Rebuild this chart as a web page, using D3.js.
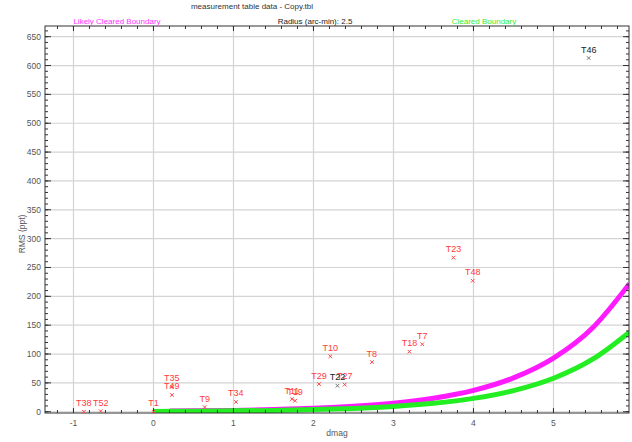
<!DOCTYPE html>
<html><head><meta charset="utf-8">
<script src="https://cdn.jsdelivr.net/npm/d3@7"></script>
<style>html,body{margin:0;padding:0;background:#fff;}svg{display:block;font-family:"Liberation Sans",Arial,sans-serif;}</style>
</head><body>
<script>
// ---- data ----
const pointNames = ["T38","T52","T1","T35","T49","T9","T34","T11","T19","T29","T10","T8","T18","T7","T23","T48","T27","T22","T46"];
const pointDmag  = [-0.87,-0.66,0.0,0.23,0.23,0.64,1.03,1.73,1.77,2.07,2.21,2.73,3.20,3.36,3.75,3.99,2.39,2.30,5.44];
const pointRms   = [0,1,0,43,29,8,17,22,19,48,96,86,104,117,267,227,47,45,613];
const pointGroup = ["red","red","red","red","red","red","red","red","red","red","red","red","red","red","red","red","red","black","black"];

const likelyDmag = [0.2,0.5,1,1.5,2,2.5,3,3.5,4,4.5,5,5.5,5.95];
const likelyRms  = [1.3,1.5,2.3,3.7,5.9,9.3,14.7,23.4,37,58.7,93,147,222];
const clearedDmag = [0,0.5,1,1.5,2,2.5,3,3.5,4,4.5,5,5.5,5.95];
const clearedRms  = [0.6,0.9,1.5,2.3,3.7,5.8,9.2,14.6,23.1,36.6,58,92,138];

const xTicks = [-1,0,1,2,3,4,5];
const yTicks = [0,50,100,150,200,250,300,350,400,450,500,550,600,650];

const titleText = "measurement table data - Copy.tbl";
const likelyLabel = "Likely Cleared Boundary";
const radiusLabel = "Radius (arc-min): 2.5";
const clearedLabel = "Cleared Boundary";
const xLabel = "dmag";
const yLabel = "RMS (ppt)";

// ---- layout ----
const W = 632, H = 442;
const L = 45, R = 629, T = 26, B = 413;
const svg = d3.select("body").append("svg").attr("width", W).attr("height", H);

const x = d3.scaleLinear().domain([-1.356, 5.944]).range([L, R]);
const y = d3.scaleLinear().domain([-2.2, 668.5]).range([B, T]);

// grid
const g = svg.append("g");
g.selectAll(".vg").data(xTicks).join("line")
  .attr("x1", d => x(d)).attr("x2", d => x(d)).attr("y1", T).attr("y2", B)
  .attr("stroke", "#d4d4d4").attr("stroke-width", 1.2);
g.selectAll(".hg").data(yTicks).join("line")
  .attr("x1", L).attr("x2", R).attr("y1", d => y(d)).attr("y2", d => y(d))
  .attr("stroke", "#d4d4d4").attr("stroke-width", 1.2);

// curves
svg.append("clipPath").attr("id", "clip").append("rect")
  .attr("x", L).attr("y", T).attr("width", R - L).attr("height", B - T);
const line = d3.line().x(d => x(d[0])).y(d => y(d[1])).curve(d3.curveMonotoneX);
const cg = svg.append("g").attr("clip-path", "url(#clip)");
cg.append("path").datum(likelyDmag.map((d, i) => [d, likelyRms[i]]))
  .attr("d", line).attr("fill", "none").attr("stroke", "#ff1aff").attr("stroke-width", 5);
cg.append("path").datum(clearedDmag.map((d, i) => [d, clearedRms[i]]))
  .attr("d", line).attr("fill", "none").attr("stroke", "#22ee22").attr("stroke-width", 5);

// axes (ticks inward, mirrored)
const xMinor = d3.range(-1.2, 6.0, 0.2).map(v => +v.toFixed(2)).filter(v => x(v) > L + 1 && x(v) < R - 1);
const yMinor = d3.range(0, 670, 10).filter(v => y(v) > T + 1);
const axG = svg.append("g").attr("stroke", "#333").attr("stroke-width", 1);
axG.append("rect").attr("x", L).attr("y", T).attr("width", R - L).attr("height", B - T).attr("fill", "none");
function ticks(vals, len, isX) {
  vals.forEach(v => {
    if (isX) {
      const px = x(v);
      axG.append("line").attr("x1", px).attr("x2", px).attr("y1", B).attr("y2", B - len);
      axG.append("line").attr("x1", px).attr("x2", px).attr("y1", T).attr("y2", T + len);
    } else {
      const py = y(v);
      axG.append("line").attr("x1", L).attr("x2", L + len).attr("y1", py).attr("y2", py);
      axG.append("line").attr("x1", R).attr("x2", R - len).attr("y1", py).attr("y2", py);
    }
  });
}
ticks(xMinor, 3, true);
ticks(xTicks, 5, true);
ticks(yMinor, 3, false);
ticks(yTicks, 6, false);

// tick labels
svg.append("g").selectAll("text").data(xTicks).join("text")
  .attr("x", d => x(d)).attr("y", 426).attr("text-anchor", "middle")
  .attr("font-size", 8.5).attr("fill", "#555").text(d => d);
svg.append("g").selectAll("text").data(yTicks).join("text")
  .attr("x", 41).attr("y", d => y(d) + 3).attr("text-anchor", "end")
  .attr("font-size", 8.5).attr("fill", "#555").text(d => d);

// axis titles
svg.append("text").attr("x", 337).attr("y", 436).attr("text-anchor", "middle")
  .attr("font-size", 8.5).attr("fill", "#555").text(xLabel);
svg.append("text").attr("transform", "translate(25,234) rotate(-90)").attr("text-anchor", "middle")
  .attr("font-size", 8.5).attr("fill", "#555").text(yLabel);

// headers
svg.append("text").attr("x", 252).attr("y", 9).attr("text-anchor", "middle")
  .attr("font-size", 8).attr("fill", "#333").text(titleText);
svg.append("text").attr("x", 117).attr("y", 23.5).attr("text-anchor", "middle")
  .attr("font-size", 8).attr("fill", "#ff33ff").text(likelyLabel);
svg.append("text").attr("x", 315).attr("y", 23.5).attr("text-anchor", "middle")
  .attr("font-size", 8).attr("fill", "#222").text(radiusLabel);
svg.append("text").attr("x", 484).attr("y", 23.5).attr("text-anchor", "middle")
  .attr("font-size", 8).attr("fill", "#33ee33").text(clearedLabel);

// points
const pts = pointNames.map((n, i) => ({ n, d: pointDmag[i], r: pointRms[i], grp: pointGroup[i] }));
const pg = svg.append("g");
pts.forEach(p => {
  const px = x(p.d), py = y(p.r);
  const mc = p.grp === "red" ? "#ff4444" : "#777";
  const lc = p.grp === "red" ? "#ff3b3b" : "#222";
  pg.append("path").attr("d", `M${px-1.8},${py-1.8}L${px+1.8},${py+1.8}M${px-1.8},${py+1.8}L${px+1.8},${py-1.8}`)
    .attr("stroke", mc).attr("stroke-width", 1).attr("fill", "none");
  pg.append("text").attr("x", px).attr("y", py - 5.5).attr("text-anchor", "middle")
    .attr("font-size", 9).attr("fill", lc).text(p.n);
});
</script>
</body></html>
